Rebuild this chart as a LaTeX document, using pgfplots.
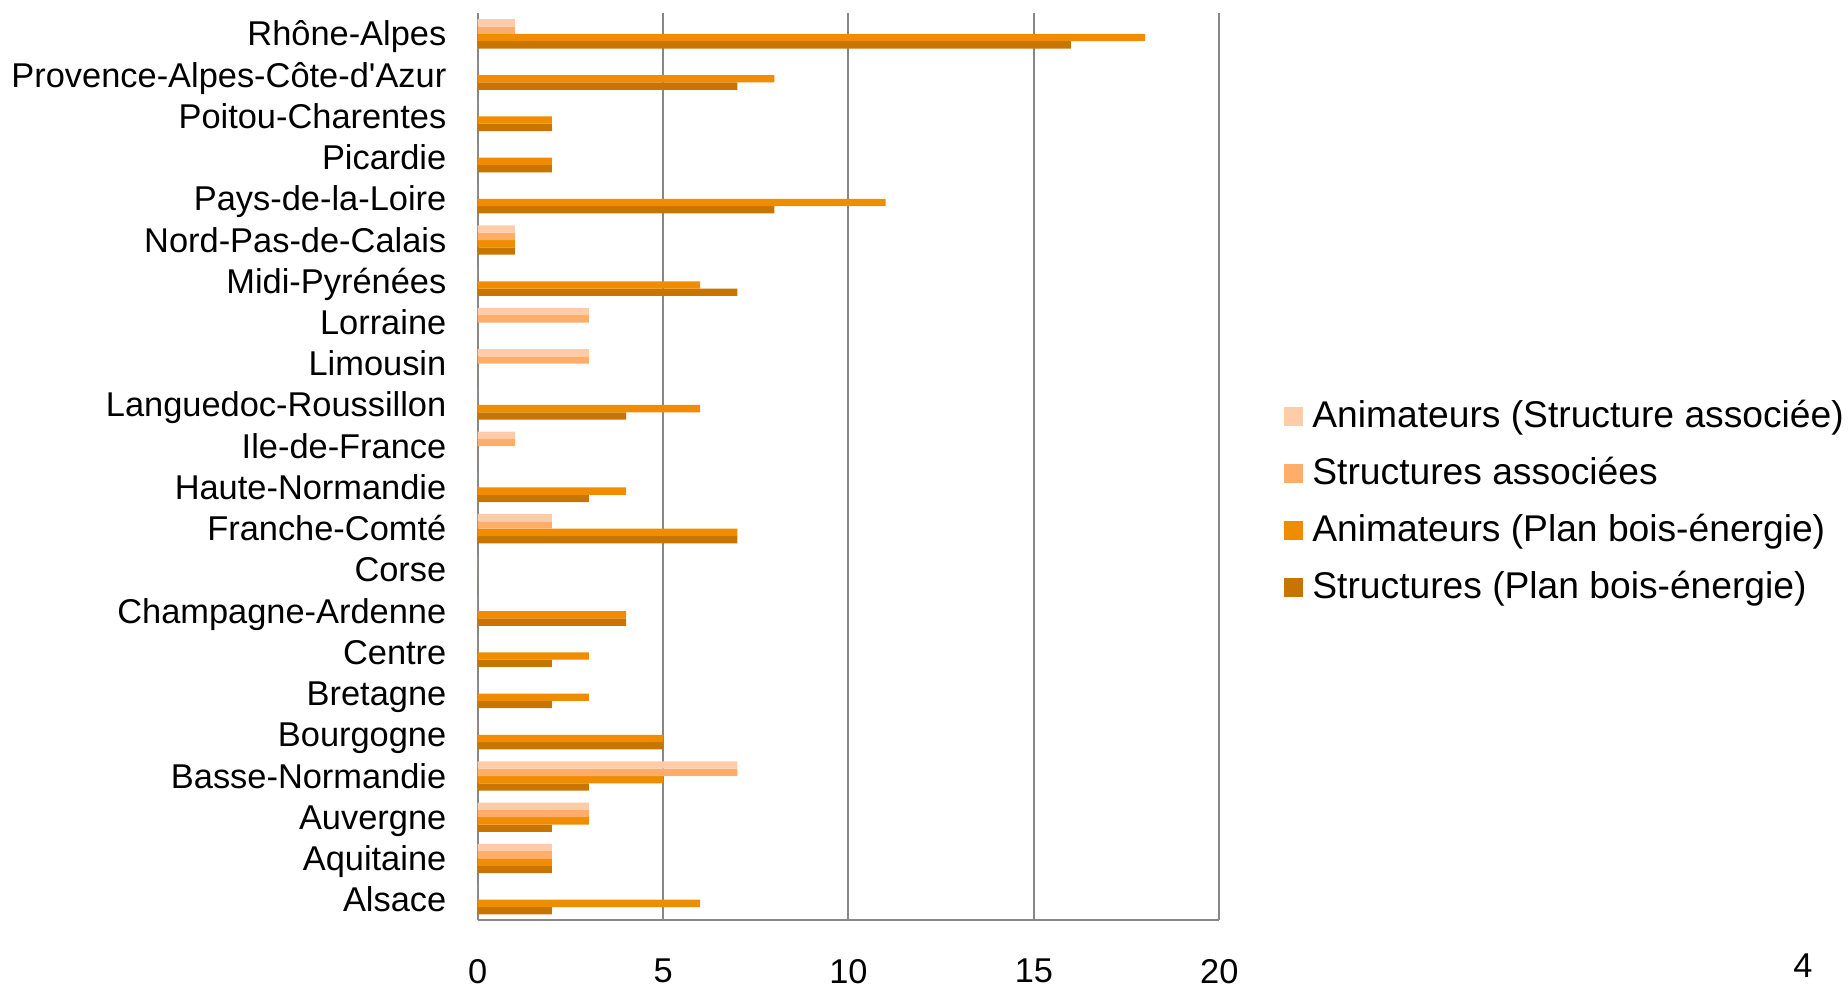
\documentclass[border=0pt]{standalone}
\usepackage{fontspec}
\setmainfont{Liberation Sans}
\usepackage{pgfplots}
\pgfplotsset{compat=1.18}
\usepackage{pgfplotstable}

\definecolor{cLight}{HTML}{FFCCAA}
\definecolor{cMid}{HTML}{FFAD68}
\definecolor{cOrange}{HTML}{F08C00}
\definecolor{cDark}{HTML}{C87400}
\definecolor{gridgray}{HTML}{878787}

% columns: animateurs (structure associee), structures associees,
% animateurs (plan bois-energie), structures (plan bois-energie)
\pgfplotstableread{
idx light mid orange dark
0 0 0 6 2
1 2 2 2 2
2 3 3 3 2
3 7 7 5 3
4 0 0 5 5
5 0 0 3 2
6 0 0 3 2
7 0 0 4 4
8 0 0 0 0
9 2 2 7 7
10 0 0 4 3
11 1 1 0 0
12 0 0 6 4
13 3 3 0 0
14 3 3 0 0
15 0 0 6 7
16 1 1 1 1
17 0 0 11 8
18 0 0 2 2
19 0 0 2 2
20 0 0 8 7
21 1 1 18 16
}\regions

% square legend marker; the invisible strut fixes the row pitch
\pgfplotsset{
  sqlegend/.style={legend image code/.code={%
    \path[draw=none,fill=none] (0pt,-14.25pt) -- (0pt,14.25pt);
    \path[##1,draw=none] (0pt,-4.75pt) rectangle (9.5pt,4.75pt);}}
}

\begin{document}
\begin{tikzpicture}[font=\fontsize{17.2}{20}\selectfont]
\begin{axis}[
  scale only axis,
  width=370.8pt, height=453.5pt,
  xbar=0pt, bar width=3.667pt,
  xmin=0, xmax=20, ymin=-0.5, ymax=21.5,
  xtick={0,5,10,15,20},
  ytick={0,...,21},
  yticklabels={Alsace,Aquitaine,Auvergne,Basse-Normandie,Bourgogne,Bretagne,Centre,Champagne-Ardenne,Corse,Franche-Comté,Haute-Normandie,Ile-de-France,Languedoc-Roussillon,Limousin,Lorraine,Midi-Pyrénées,Nord-Pas-de-Calais,Pays-de-la-Loire,Picardie,Poitou-Charentes,Provence-Alpes-Côte-d\textquotesingle Azur,Rhône-Alpes},
  axis x line*=bottom, axis y line*=left,
  axis line style={draw=gridgray, line width=1pt},
  xmajorgrids, major grid style={draw=gridgray, line width=1pt},
  major tick length=0pt, tick style={draw=none},
  /pgf/number format/assume math mode=true,
  xticklabel style={inner sep=0pt, yshift=-19.3pt},
  yticklabel style={inner sep=0pt, xshift=-15.5pt, text height=1.2em, text depth=0pt},
  legend cell align=left,
  reverse legend,
  legend style={draw=none, fill=none, at={(1.0873,0.461)}, anchor=west,
    inner xsep=0pt, inner ysep=0pt, row sep=0pt, column sep=4.5pt,
    font=\fontsize{18.6}{22}\selectfont,
    nodes={inner sep=0pt, text height=1.3em, text depth=0.2em}},
  clip=false,
]
\addplot[fill=cDark, draw=none, sqlegend] table[x=dark, y=idx] {\regions};
\addplot[fill=cOrange, draw=none, sqlegend] table[x=orange, y=idx] {\regions};
\addplot[fill=cMid, draw=none, sqlegend] table[x=mid, y=idx] {\regions};
\addplot[fill=cLight, draw=none, sqlegend] table[x=light, y=idx] {\regions};
\legend{Structures (Plan bois-énergie),Animateurs (Plan bois-énergie),Structures associées,Animateurs (Structure associée)}
\coordinate (bl) at (rel axis cs:0,0);
\node[inner sep=0pt] at (rel axis cs:1.787,-0.0505) {4};
\end{axis}
\useasboundingbox ([xshift=-238.85pt,yshift=-33.35pt]bl) rectangle ([xshift=685.15pt,yshift=460.15pt]bl);
\end{tikzpicture}
\end{document}
